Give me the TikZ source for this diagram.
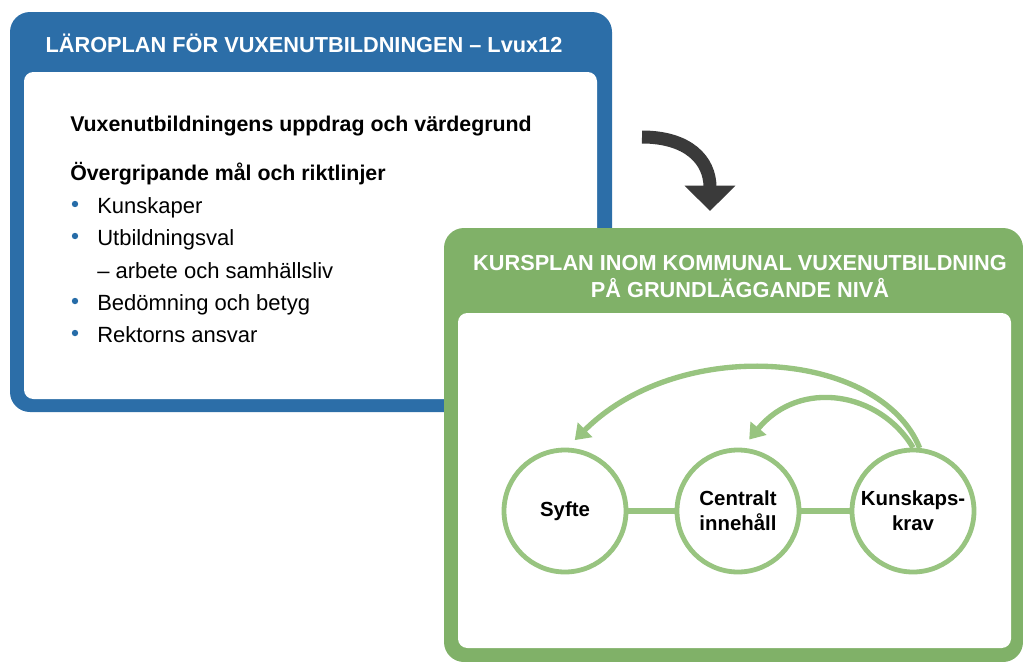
\documentclass[tikz,border=0pt]{standalone}
\usepackage{fontspec}
\setmainfont{Liberation Sans}
\usetikzlibrary{arrows.meta}

\definecolor{lvblue}{RGB}{44,110,168}
\definecolor{kpgreen}{RGB}{128,177,104}
\definecolor{ringgreen}{RGB}{152,196,128}
\definecolor{turngray}{RGB}{58,58,58}
\definecolor{dotblue}{RGB}{38,108,168}

\begin{document}
\begin{tikzpicture}[x=0.75pt,y=-0.75pt,
  head/.style={font=\bfseries\fontsize{16.3}{20}\selectfont, text=white, anchor=base, inner sep=0pt},
  sub/.style={font=\bfseries\fontsize{16}{20}\selectfont, anchor=base west, inner sep=0pt},
  item/.style={font=\fontsize{16.5}{20}\selectfont, anchor=base west, inner sep=0pt},
  dot/.style={circle, fill=dotblue, inner sep=0pt, minimum size=4.8pt},
  ring/.style={circle, draw=ringgreen, line width=3.6pt, fill=white, minimum size=91.5pt,
    inner sep=0pt, align=center, font=\bfseries\fontsize{15.3}{19}\selectfont},
  link/.style={draw=ringgreen, line width=5pt},
  back/.style={draw=ringgreen, line width=4pt, -{Triangle[width=15pt,length=11pt]}}]
\useasboundingbox (0,0) rectangle (1023,661);
\clip (0,0) rectangle (1023,661);

% blue box
\fill[lvblue, rounded corners=15pt] (10,12) rectangle (612,412);
\fill[white, rounded corners=7pt] (24,72) rectangle (597,399);
\node[head] (lvtitle) at (304,52) {LÄROPLAN FÖR VUXENUTBILDNINGEN – Lvux12};

\node[sub] (uppdrag) at (70,131) {Vuxenutbildningens uppdrag och värdegrund};
\node[sub] (mal) at (70,180) {Övergripande mål och riktlinjer};

\node[dot] (d1) at (75,204) {};
\node[dot] (d2) at (75,236) {};
\node[dot] (d3) at (75,301) {};
\node[dot] (d4) at (75,333) {};
\node[item] (kunsk) at (97,213) {Kunskaper};
\node[item] (utbval) at (97,245) {Utbildningsval};
\node[item] (arbete) at (97,278) {– arbete och samhällsliv};
\node[item] (bedom) at (97,310) {Bedömning och betyg};
\node[item] (rektor) at (97,342) {Rektorns ansvar};

% turning arrow
\coordinate (turnA) at (642,137);
\coordinate (turnB) at (710,211);
\draw[turngray, line width=9.75pt, -{Triangle[width=37pt,length=19pt]}]
  (turnA) .. controls (688,137) and (710,160) .. (turnB);

% green box
\fill[kpgreen, rounded corners=15pt] (444,228) rectangle (1023,662);
\fill[white, rounded corners=7pt] (458,313) rectangle (1011,648);
\node[head] (kptitle) at (740,270) {KURSPLAN INOM KOMMUNAL VUXENUTBILDNING};
\node[head] (kpniva) at (740,297) {PÅ GRUNDLÄGGANDE NIVÅ};

\node[ring] (syfte) at (565,511) {Syfte};
\node[ring] (centralt) at (738,511) {Centralt\\innehåll};
\node[ring] (krav) at (913,511) {Kunskaps-\\krav};

\draw[link] (syfte) -- (centralt);
\draw[link] (centralt) -- (krav);

\draw[back, shorten >=8pt] (krav.84) .. controls (880,350) and (680,335) .. (syfte.88);
\draw[back, shorten >=8pt] (krav.north) .. controls (880,392) and (800,378) .. (centralt.86);
\end{tikzpicture}
\end{document}
